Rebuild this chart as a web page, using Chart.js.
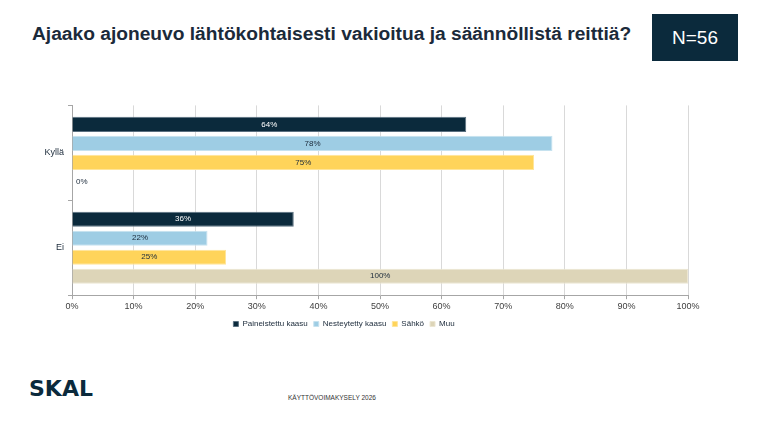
<!DOCTYPE html>
<html>
<head>
<meta charset="utf-8">
<script src="https://cdn.jsdelivr.net/npm/chart.js@4"></script>
<style>
  body { margin: 0; width: 767px; height: 431px; background: #fff; position: relative; overflow: hidden; font-family: "Liberation Sans", Arial, sans-serif; }
  #title { position: absolute; left: 32px; top: 24px; font-size: 18px; font-weight: bold; color: #1b2a3a; white-space: nowrap; transform-origin: left top; }
  #nbox { position: absolute; left: 652px; top: 14px; width: 86px; height: 47px; background: #0b2a3c; color: #fff; font-size: 19px; line-height: 48px; text-align: center; }
  #wrap { position: absolute; left: 0; top: 96px; width: 767px; height: 242px; }
  #logo { position: absolute; left: 29px; top: 376px; font-family: "DejaVu Sans", sans-serif; font-size: 22px; font-weight: bold; color: #0b2a3c; }
  #foot { position: absolute; left: 288px; top: 394px; font-size: 6.5px; color: #333; }
</style>
</head>
<body>
<div id="title">Ajaako ajoneuvo lähtökohtaisesti vakioitua ja säännöllistä reittiä?</div>
<div id="nbox">N=56</div>
<div id="wrap"><canvas id="chart"></canvas></div>
<div id="logo">SKAL</div>
<div id="foot">KÄYTTÖVOIMAKYSELY 2026</div>
<script>
// kategoriat ja sarjat
const categories = ['Kyllä', 'Ei'];
const seriesNames = ['Paineistettu kaasu', 'Nesteytetty kaasu', 'Sähkö', 'Muu'];
const paineistettu = [64, 36];
const nesteytetty = [78, 22];
const sahko = [75, 25];
const muu = [0, 100];
const xTicks = [0, 10, 20, 30, 40, 50, 60, 70, 80, 90, 100];

const colors = ['#0b2a3c', '#9ecde4', '#ffd45a', '#ddd5b8'];
const borders = ['#5a7080', '#c6e2ef', '#ffe59a', '#ece6d2'];

// otsikko levyiseksi kuten kuvassa
const t = document.getElementById('title');
t.style.transform = 'scaleX(' + (599 / t.offsetWidth) + ')';

const labelPlugin = {
    id: 'barLabels',
    afterDatasetsDraw(chart) {
        const ctx = chart.ctx;
        ctx.save();
        ctx.font = '8px "Liberation Sans", Arial, sans-serif';
        ctx.textBaseline = 'middle';
        chart.data.datasets.forEach((ds, i) => {
            const meta = chart.getDatasetMeta(i);
            meta.data.forEach((bar, j) => {
                const v = ds.data[j];
                ctx.fillStyle = i === 0 ? '#ffffff' : '#1b2a3a';
                if (v > 0) {
                    ctx.textAlign = 'center';
                    ctx.fillText(v + '%', (bar.x + bar.base) / 2, bar.y);
                } else {
                    ctx.textAlign = 'left';
                    ctx.fillText(v + '%', bar.base + 4, bar.y);
                }
            });
        });
        ctx.restore();
    }
};

const values = [paineistettu, nesteytetty, sahko, muu];
new Chart(document.getElementById('chart'), {
    type: 'bar',
    data: {
        labels: categories,
        datasets: seriesNames.map((name, i) => ({
            label: name,
            data: values[i],
            backgroundColor: colors[i],
            borderColor: borders[i],
            borderWidth: 1,
            categoryPercentage: 0.8,
            barPercentage: 0.8
        }))
    },
    options: {
        indexAxis: 'y',
        responsive: true,
        maintainAspectRatio: false,
        animation: false,
        layout: { padding: { top: 9, right: 79 } },
        plugins: {
            legend: {
                position: 'bottom',
                labels: { boxWidth: 5, boxHeight: 5, padding: 6, color: '#1b2a3a', font: { size: 8, family: '"Liberation Sans", Arial, sans-serif' } }
            },
            tooltip: { enabled: false }
        },
        scales: {
            x: {
                min: 0, max: 100,
                afterBuildTicks: s => { s.ticks = xTicks.map(v => ({ value: v })); },
                ticks: { callback: v => v + '%', color: '#404040', font: { size: 9 }, padding: 2 },
                grid: { color: '#d9d9d9', tickLength: 4, tickColor: '#a6a6a6' },
                border: { color: '#a6a6a6' }
            },
            y: {
                afterFit: s => { s.width = 72; },
                ticks: { color: '#1b2a3a', font: { size: 9 }, padding: 4 },
                grid: { drawOnChartArea: false, tickLength: 4, color: '#a6a6a6' },
                border: { color: '#a6a6a6' }
            }
        }
    },
    plugins: [labelPlugin]
});
</script>
</body>
</html>
